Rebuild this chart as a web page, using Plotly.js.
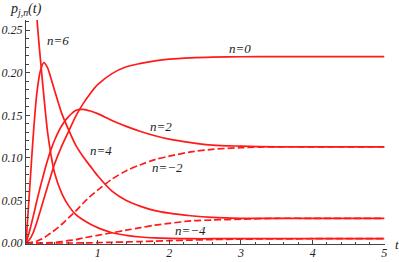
<!DOCTYPE html>
<html>
<head>
<meta charset="utf-8">
<script src="https://cdn.plot.ly/plotly-3.0.1.min.js"></script>
<style>html,body{margin:0;padding:0;background:#fff;}#chart{width:399px;height:262px;}</style>
</head>
<body>
<div id="chart"></div>
<script>
// time samples
var t = [0, 0.05, 0.1, 0.15, 0.2, 0.25, 0.3, 0.35, 0.4, 0.5, 0.6, 0.7, 0.8, 0.9, 1.0, 1.2, 1.4, 1.6, 1.8, 2.0, 2.3, 2.6, 3.0, 3.5, 4.0, 5.0];
// p_{j,n}(t)
var p_n0 = [0, 0.004, 0.012, 0.024, 0.038, 0.052, 0.066, 0.080, 0.093, 0.114, 0.132, 0.150, 0.164, 0.176, 0.186, 0.199, 0.207, 0.211, 0.214, 0.216, 0.2175, 0.2183, 0.2188, 0.219, 0.219, 0.219];
var p_n2 = [0, 0.014, 0.031, 0.049, 0.066, 0.082, 0.097, 0.110, 0.121, 0.138, 0.149, 0.156, 0.157, 0.155, 0.152, 0.144, 0.137, 0.131, 0.126, 0.122, 0.118, 0.115, 0.1138, 0.113, 0.113, 0.113];
var p_n4 = [0, 0.062, 0.125, 0.175, 0.202, 0.212, 0.206, 0.193, 0.179, 0.152, 0.132, 0.114, 0.101, 0.090, 0.079, 0.061, 0.050, 0.043, 0.038, 0.035, 0.032, 0.030, 0.029, 0.029, 0.029, 0.029];
var p_n6 = [1.0, 0.62, 0.40, 0.268, 0.217, 0.172, 0.131, 0.103, 0.082, 0.058, 0.043, 0.033, 0.027, 0.022, 0.018, 0.012, 0.009, 0.007, 0.006, 0.0055, 0.005, 0.005, 0.005, 0.005, 0.005, 0.005];
var p_nm2 = [0, 0.0003, 0.001, 0.002, 0.004, 0.006, 0.009, 0.012, 0.015, 0.022, 0.030, 0.038, 0.047, 0.055, 0.062, 0.075, 0.085, 0.092, 0.098, 0.102, 0.107, 0.110, 0.112, 0.113, 0.113, 0.113];
var p_nm4 = [0, 0, 0, 0, 0, 0.0001, 0.0002, 0.0004, 0.0007, 0.0015, 0.003, 0.004, 0.006, 0.0075, 0.009, 0.012, 0.015, 0.018, 0.021, 0.023, 0.026, 0.027, 0.028, 0.029, 0.029, 0.029];
var p_nm6 = [0, 0, 0, 0, 0, 0, 0, 0, 0, 0, 0, 0, 0.0001, 0.0002, 0.0004, 0.0008, 0.0012, 0.0017, 0.0022, 0.0027, 0.0034, 0.004, 0.0045, 0.0048, 0.005, 0.005];

var yTickVals = [0, 0.05, 0.10, 0.15, 0.20, 0.25];
var yTickText = ["0.00", "0.05", "0.10", "0.15", "0.20", "0.25"];
var xTickVals = [1, 2, 3, 4, 5];
var xTickText = ["1", "2", "3", "4", "5"];

var labels = [
  {text: "n=6", t: 0.45, p: 0.2376},
  {text: "n=0", t: 2.99, p: 0.229},
  {text: "n=2", t: 1.88, p: 0.137},
  {text: "n=4", t: 1.05, p: 0.109},
  {text: "n=\u22122", t: 1.98, p: 0.089},
  {text: "n=\u22124", t: 2.29, p: 0.015}
];

var red = "#ff1a1a";
function tr(y, dashed) {
  return {x: t, y: y, type: "scatter", mode: "lines",
    line: {color: red, width: 1.7, shape: "spline", smoothing: 0.8, dash: dashed ? "7px,3px" : "solid"},
    hoverinfo: "skip", showlegend: false};
}
var data = [tr(p_nm6, true), tr(p_nm4, true), tr(p_nm2, true), tr(p_n6, false), tr(p_n4, false), tr(p_n2, false), tr(p_n0, false)];

var serif = "Liberation Serif";
function ital(a) { return a.map(function (s) { return "<i>" + s + "</i>"; }); }
var ann = labels.map(function (l) {
  return {x: l.t, y: l.p, xref: "x", yref: "y", text: "<i>" + l.text + "</i>", showarrow: false,
    font: {family: serif, size: 13, color: "#222"}};
});
ann.push({x: 0, y: 1.045, xref: "paper", yref: "paper", xanchor: "center", yanchor: "middle",
  text: "<i>p<sub>j,n</sub>(t)</i>", showarrow: false, font: {family: serif, size: 14, color: "#222"}});
ann.push({x: 1.033, y: 0, xref: "paper", yref: "paper", xanchor: "center", yanchor: "middle",
  text: "<i>t</i>", showarrow: false, font: {family: serif, size: 13, color: "#222"}});

var layout = {
  width: 399, height: 262,
  margin: {l: 26, r: 14, t: 20, b: 18, pad: 0},
  paper_bgcolor: "#fff", plot_bgcolor: "#fff",
  xaxis: {range: [0, 5.01], showgrid: false, zeroline: false, showline: true, linecolor: "#444", linewidth: 1,
    ticks: "inside", ticklen: 4, tickcolor: "#444", tickvals: xTickVals, ticktext: ital(xTickText),
    ticklabelstandoff: -2,
    tickfont: {family: serif, size: 12, color: "#222"},
    minor: {dtick: 0.2, ticks: "inside", ticklen: 2.5, tickcolor: "#444", showgrid: false}},
  yaxis: {range: [-0.0012, 0.262], showgrid: false, zeroline: false, showline: true, linecolor: "#444", linewidth: 1,
    ticks: "inside", ticklen: 4, tickcolor: "#444", tickvals: yTickVals, ticktext: ital(yTickText),
    tickfont: {family: serif, size: 12, color: "#222"},
    minor: {dtick: 0.01, ticks: "inside", ticklen: 2.5, tickcolor: "#444", showgrid: false}},
  annotations: ann
};
Plotly.newPlot("chart", data, layout, {staticPlot: true, displayModeBar: false});
</script>
</body>
</html>
